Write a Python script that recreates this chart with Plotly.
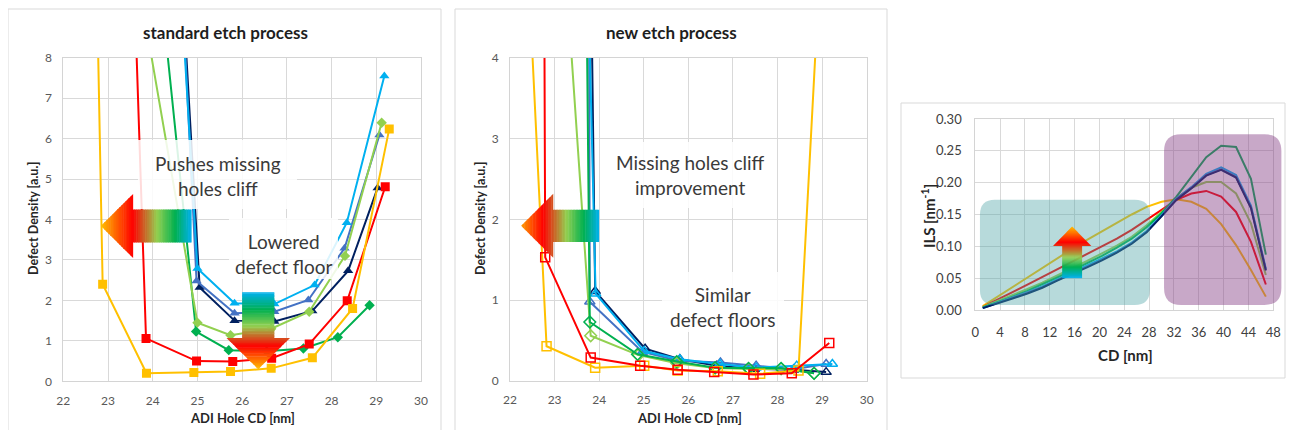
import plotly.graph_objects as go

# ---------------- data: standard etch process (left panel) ----------------
std_yellow_x = [22.57, 22.88, 23.86, 24.92, 25.74, 26.65, 27.57, 28.47, 29.29]
std_yellow_y = [20.0, 2.40, 0.20, 0.22, 0.24, 0.32, 0.58, 1.80, 6.24]
std_red_x = [23.28, 23.85, 24.98, 25.79, 26.66, 27.50, 28.35, 29.20]
std_red_y = [20.0, 1.06, 0.50, 0.49, 0.57, 0.92, 1.99, 4.81]
std_green_x = [23.22, 24.97, 25.70, 26.55, 27.37, 28.14, 28.85]
std_green_y = [20.0, 1.23, 0.77, 0.74, 0.81, 1.09, 1.88]
std_lgreen_x = [22.10, 25.00, 25.74, 26.65, 27.50, 28.30, 29.12]
std_lgreen_y = [20.0, 1.45, 1.14, 1.30, 1.72, 3.10, 6.39]
std_lblue_x = [24.08, 25.00, 25.83, 26.72, 27.62, 28.34, 29.18]
std_lblue_y = [20.0, 2.79, 1.93, 1.91, 2.38, 3.92, 7.55]
std_mblue_x = [24.20, 24.98, 25.83, 26.72, 27.48, 28.29, 29.07]
std_mblue_y = [20.0, 2.48, 1.68, 1.72, 2.01, 3.29, 6.09]
std_navy_x = [24.13, 25.05, 25.83, 26.72, 27.57, 28.37, 29.03]
std_navy_y = [20.0, 2.32, 1.50, 1.48, 1.74, 2.73, 4.78]

# ---------------- data: new etch process (middle panel) ----------------
new_yellow_x = [21.10, 22.82, 23.91, 25.01, 25.76, 26.66, 27.61, 28.47, 30.39]
new_yellow_y = [20.0, 0.43, 0.165, 0.19, 0.13, 0.12, 0.09, 0.13, 20.0]
new_red_x = [22.67, 22.79, 23.81, 24.92, 25.76, 26.58, 27.46, 28.32, 29.16]
new_red_y = [20.0, 1.53, 0.29, 0.19, 0.14, 0.11, 0.08, 0.095, 0.47]
new_lgreen_x = [21.40, 23.81, 24.88, 25.74, 26.60, 27.35, 28.08, 28.82]
new_lgreen_y = [20.0, 0.56, 0.32, 0.22, 0.16, 0.15, 0.15, 0.095]
new_green_x = [23.44, 23.79, 24.86, 25.74, 26.60, 27.35, 28.08, 28.82]
new_green_y = [20.0, 0.73, 0.33, 0.24, 0.165, 0.157, 0.157, 0.095]
new_lblue_x = [23.10, 23.92, 25.01, 25.81, 26.71, 27.52, 28.43, 29.23]
new_lblue_y = [20.0, 1.08, 0.37, 0.27, 0.21, 0.165, 0.19, 0.21]
new_mblue_x = [23.70, 23.79, 24.97, 25.78, 26.72, 27.52, 28.36, 29.09]
new_mblue_y = [20.0, 0.98, 0.36, 0.25, 0.23, 0.19, 0.145, 0.21]
new_navy_x = [23.47, 23.91, 25.03, 25.81, 26.64, 27.48, 28.36, 29.09]
new_navy_y = [20.0, 1.11, 0.40, 0.27, 0.19, 0.15, 0.14, 0.11]

# ---------------- data: ILS vs CD (right panel) ----------------
cd = [1.2, 3.6, 6.0, 8.4, 10.8, 13.2, 15.6, 18.0, 20.4, 22.8,
      25.2, 27.6, 30.0, 32.4, 34.8, 37.2, 39.6, 42.0, 44.4, 46.8]
ils_yellow = [0.006, 0.021, 0.036, 0.052, 0.067, 0.082, 0.096, 0.110, 0.124, 0.137,
              0.150, 0.162, 0.170, 0.174, 0.170, 0.159, 0.135, 0.102, 0.063, 0.021]
ils_red = [0.005, 0.016, 0.028, 0.040, 0.052, 0.064, 0.076, 0.088, 0.100, 0.112,
           0.126, 0.142, 0.158, 0.173, 0.183, 0.187, 0.178, 0.154, 0.107, 0.040]
ils_lgreen = [0.005, 0.014, 0.023, 0.033, 0.043, 0.054, 0.065, 0.077, 0.089, 0.101,
              0.115, 0.133, 0.154, 0.176, 0.192, 0.201, 0.201, 0.183, 0.136, 0.055]
ils_green = [0.004, 0.012, 0.021, 0.030, 0.040, 0.051, 0.062, 0.073, 0.085, 0.098,
             0.112, 0.130, 0.152, 0.178, 0.210, 0.240, 0.258, 0.256, 0.206, 0.087]
ils_lblue = [0.003, 0.011, 0.020, 0.028, 0.037, 0.048, 0.058, 0.069, 0.080, 0.092,
             0.106, 0.124, 0.149, 0.175, 0.193, 0.214, 0.224, 0.212, 0.164, 0.065]
ils_mblue = [0.003, 0.011, 0.019, 0.027, 0.036, 0.047, 0.057, 0.068, 0.079, 0.091,
             0.105, 0.123, 0.148, 0.174, 0.192, 0.212, 0.221, 0.209, 0.161, 0.063]
ils_navy = [0.003, 0.010, 0.018, 0.026, 0.035, 0.046, 0.056, 0.067, 0.078, 0.090,
            0.104, 0.122, 0.147, 0.173, 0.191, 0.211, 0.220, 0.208, 0.160, 0.062]

# tick values
p1_xticks = [22, 23, 24, 25, 26, 27, 28, 29, 30]
p1_yticks = [0, 1, 2, 3, 4, 5, 6, 7, 8]
p2_yticks = [0, 1, 2, 3, 4]
p3_xticks = [0, 4, 8, 12, 16, 20, 24, 28, 32, 36, 40, 44, 48]
p3_yticks = [0.00, 0.05, 0.10, 0.15, 0.20, 0.25, 0.30]

# ---------------- geometry / styling ----------------
# page body has an 8px margin: the figure is sized so that it fills the window exactly
OFF = 8
W, H = 1294 - 2 * OFF, 438 - 2 * OFF

C_YEL, C_RED, C_LGR, C_GRN = '#FFC000', '#FF0000', '#92D050', '#00B050'
C_LBL, C_MBL, C_NAV = '#00B0F0', '#4472C4', '#002060'
FONT = 'Lato'

# plot-area boxes in screen pixels (left, right, top, bottom)
P1 = (63.3, 421.0, 57.7, 381.3)
P2 = (510.0, 866.7, 57.7, 381.0)
P3 = (975.3, 1273.3, 119.0, 310.0)


def px(x):
    return (x - OFF) / W


def py(y):
    return 1 - (y - OFF) / H


def dom_x(p):
    return [px(p[0]), px(p[1])]


def dom_y(p):
    return [py(p[3]), py(p[2])]


fig = go.Figure()

left = [
    (std_navy_x, std_navy_y, C_NAV, 'triangle-up'),
    (std_mblue_x, std_mblue_y, C_MBL, 'triangle-up'),
    (std_lblue_x, std_lblue_y, C_LBL, 'triangle-up'),
    (std_green_x, std_green_y, C_GRN, 'diamond'),
    (std_lgreen_x, std_lgreen_y, C_LGR, 'diamond'),
    (std_red_x, std_red_y, C_RED, 'square'),
    (std_yellow_x, std_yellow_y, C_YEL, 'square'),
]
for xs, ys, c, sym in left:
    size = 8 if sym == 'diamond' else 9
    fig.add_trace(go.Scatter(x=xs, y=ys, mode='lines+markers', xaxis='x', yaxis='y',
                             line=dict(color=c, width=2),
                             marker=dict(symbol=sym, size=size, color=c),
                             showlegend=False, hoverinfo='skip'))

mid = [
    (new_navy_x, new_navy_y, C_NAV, 'triangle-up-open'),
    (new_mblue_x, new_mblue_y, C_MBL, 'triangle-up-open'),
    (new_lblue_x, new_lblue_y, C_LBL, 'triangle-up-open'),
    (new_lgreen_x, new_lgreen_y, C_LGR, 'diamond-open'),
    (new_green_x, new_green_y, C_GRN, 'diamond-open'),
    (new_yellow_x, new_yellow_y, C_YEL, 'square-open'),
    (new_red_x, new_red_y, C_RED, 'square-open'),
]
for xs, ys, c, sym in mid:
    fig.add_trace(go.Scatter(x=xs, y=ys, mode='lines+markers', xaxis='x2', yaxis='y2',
                             line=dict(color=c, width=2),
                             marker=dict(symbol=sym, size=9, color=c, line=dict(width=1.5, color=c)),
                             showlegend=False, hoverinfo='skip'))

right = [
    (ils_yellow, C_YEL), (ils_red, C_RED), (ils_lgreen, C_LGR), (ils_green, C_GRN),
    (ils_lblue, C_LBL), (ils_mblue, C_MBL), (ils_navy, C_NAV),
]
for ys, c in right:
    fig.add_trace(go.Scatter(x=cd, y=ys, mode='lines', xaxis='x3', yaxis='y3',
                             line=dict(color=c, width=2),
                             showlegend=False, hoverinfo='skip'))


def axis(**kw):
    d = dict(showgrid=True, gridcolor='#D9D9D9', gridwidth=1, zeroline=False,
             showline=True, linecolor='#D4D4D4', linewidth=1, mirror=True, ticks='',
             tickfont=dict(family=FONT, size=12, color='#595959'),
             ticklabelstandoff=8, fixedrange=True, automargin=False)
    d.update(kw)
    return d


fig.update_layout(
    template='none',
    width=W, height=H, margin=dict(l=0, r=0, t=0, b=0, pad=0, autoexpand=False),
    paper_bgcolor='white', plot_bgcolor='white', showlegend=False,
    xaxis=axis(domain=dom_x(P1), range=[22, 30], tickvals=p1_xticks, anchor='y'),
    yaxis=axis(domain=dom_y(P1), range=[0, 8], tickvals=p1_yticks, anchor='x'),
    xaxis2=axis(domain=dom_x(P2), range=[22, 30], tickvals=p1_xticks, anchor='y2'),
    yaxis2=axis(domain=dom_y(P2), range=[0, 4], tickvals=p2_yticks, anchor='x2'),
    xaxis3=axis(domain=dom_x(P3), range=[0, 48], tickvals=p3_xticks, anchor='y3',
                tickfont=dict(family=FONT, size=13, color='#404040'), ticklabelstandoff=10),
    yaxis3=axis(domain=dom_y(P3), range=[0, 0.30], tickvals=p3_yticks, tickformat='.2f',
                anchor='x3', tickfont=dict(family=FONT, size=13, color='#404040'),
                ticklabelstandoff=10),
)

shapes = []

# panel frames (screen pixel coords)
for (x0, y0, x1, y1) in [(8, 9, 441, 470), (455, 9, 887, 470), (901, 103, 1285, 378)]:
    shapes.append(dict(type='rect', xref='paper', yref='paper', x0=px(x0), x1=px(x1),
                       y0=py(y1), y1=py(y0), line=dict(color='#D9D9D9', width=1),
                       fillcolor='rgba(0,0,0,0)', layer='below'))


def to_pix3(x, y):
    return P3[0] + x / 48.0 * (P3[1] - P3[0]), P3[3] - y / 0.30 * (P3[3] - P3[2])


def rounded(x0, y0, x1, y1, r):
    pts = [('M', [(x0 + r, y0)]), ('L', [(x1 - r, y0)]), ('Q', [(x1, y0), (x1, y0 + r)]),
           ('L', [(x1, y1 - r)]), ('Q', [(x1, y1), (x1 - r, y1)]), ('L', [(x0 + r, y1)]),
           ('Q', [(x0, y1), (x0, y1 - r)]), ('L', [(x0, y0 + r)]), ('Q', [(x0, y0), (x0 + r, y0)])]
    s = ''
    for cmd, ps in pts:
        s += cmd + ' ' + ' '.join('%.6f,%.6f' % (px(a), py(b)) for a, b in ps) + ' '
    return s + 'Z'


teal_box = (0.75, 0.008, 28.1, 0.173)
purple_box = (30.4, 0.008, 49.3, 0.276)
tx0, ty1 = to_pix3(teal_box[0], teal_box[1])
tx1, ty0 = to_pix3(teal_box[2], teal_box[3])
shapes.append(dict(type='path', xref='paper', yref='paper', path=rounded(tx0, ty0, tx1, ty1, 15),
                   fillcolor='rgba(75,162,165,0.40)', line=dict(width=0), layer='above'))
qx0, qy1 = to_pix3(purple_box[0], purple_box[1])
qx1, qy0 = to_pix3(purple_box[2], purple_box[3])
shapes.append(dict(type='path', xref='paper', yref='paper', path=rounded(qx0, qy0, qx1, qy1, 17),
                   fillcolor='rgba(133,62,133,0.45)', line=dict(width=0), layer='above'))

# white label boxes
for (x0, y0, x1, y1) in [(138, 140, 297, 209), (229, 218, 338, 279),
                         (605, 142, 775, 208), (662, 272, 784, 332)]:
    shapes.append(dict(type='rect', xref='paper', yref='paper', x0=px(x0), x1=px(x1),
                       y0=py(y1), y1=py(y0), line=dict(width=0),
                       fillcolor='rgba(255,255,255,0.86)', layer='above'))


def hex2rgb(h):
    return tuple(int(h[i:i + 2], 16) for i in (1, 3, 5))


def grad_color(stops, t):
    for (t0, c0), (t1, c1) in zip(stops, stops[1:]):
        if t <= t1:
            f = (t - t0) / (t1 - t0) if t1 > t0 else 0
            a, b = hex2rgb(c0), hex2rgb(c1)
            return 'rgb(%d,%d,%d)' % tuple(round(a[i] + (b[i] - a[i]) * f) for i in range(3))
    return stops[-1][1]


def gradient_arrow(tip, base, tail, center, head_half, shaft_half, vertical, stops,
                   xref, yref, n=50):
    out = []
    L = tail - tip
    tbase = (base - tip) / L
    nh = max(6, round(n * tbase))
    ns = max(6, n - nh)
    segs = [(tbase * i / nh, tbase * (i + 1) / nh, True) for i in range(nh)]
    segs += [(tbase + (1 - tbase) * i / ns, tbase + (1 - tbase) * (i + 1) / ns, False)
             for i in range(ns)]
    for ta, tb, head in segs:
        tb2 = min(tb + 0.006, 1.0)

        def half(t):
            return head_half * t / tbase if head else shaft_half
        pa, pb = tip + L * ta, tip + L * tb2
        ha, hb = half(ta), half(tb2)
        if vertical:
            pts = [(center - ha, pa), (center - hb, pb), (center + hb, pb), (center + ha, pa)]
        else:
            pts = [(pa, center - ha), (pb, center - hb), (pb, center + hb), (pa, center + ha)]
        path = 'M ' + ' L '.join('%.5f,%.5f' % p for p in pts) + ' Z'
        out.append(dict(type='path', path=path, xref=xref, yref=yref,
                        fillcolor=grad_color(stops, (ta + tb) / 2),
                        line=dict(width=0), layer='above'))
    return out


stops_left1 = [(0, '#FFC000'), (0.35, '#FF0000'), (0.62, '#92D050'), (0.82, '#00B050'), (1.0, '#00B0F0')]
stops_left2 = [(0, '#FF9A00'), (0.28, '#FF0000'), (0.58, '#92D050'), (0.80, '#00B050'), (1.0, '#00B0F0')]
stops_down = [(0, '#FFC000'), (0.30, '#FF0000'), (0.56, '#92D050'), (0.77, '#00B050'), (1.0, '#00B0F0')]
stops_up = [(0, '#FFC000'), (0.30, '#FF0000'), (0.60, '#92D050'), (0.78, '#00B050'), (1.0, '#00B0F0')]

shapes += gradient_arrow(22.84, 23.55, 24.87, 3.84, 0.78, 0.41, False, stops_left1, 'x', 'y')
shapes += gradient_arrow(0.30, 1.06, 2.20, 26.36, 0.70, 0.36, True, stops_down, 'x', 'y')
shapes += gradient_arrow(22.25, 22.96, 24.00, 1.92, 0.39, 0.20, False, stops_left2, 'x2', 'y2')
shapes += gradient_arrow(0.131, 0.101, 0.050, 15.6, 3.04, 1.60, True, stops_up, 'x3', 'y3')

fig.update_layout(shapes=shapes)

ann = []


def text(x, y, s, size, color='#3A3A3A', angle=0, bold=False):
    ann.append(dict(x=px(x), y=py(y), xref='paper', yref='paper', text=('<b>%s</b>' % s) if bold else s,
                    showarrow=False, xanchor='center', yanchor='middle', textangle=angle,
                    font=dict(family=FONT, size=size, color=color)))


text(225, 32, 'standard etch process', 17, '#1E1E1E', bold=True)
text(671, 32, 'new etch process', 17, '#1E1E1E', bold=True)
text(242, 418, 'ADI Hole CD [nm]', 13, '#262626', bold=True)
text(689, 418, 'ADI Hole CD [nm]', 13, '#262626', bold=True)
text(33, 219, 'Defect Density [a.u.]', 12.5, '#262626', angle=-90, bold=True)
text(480, 219, 'Defect Density [a.u.]', 12.5, '#262626', angle=-90, bold=True)
text(1125, 355, 'CD [nm]', 15, '#262626', bold=True)
text(928, 216, 'ILS [nm<sup>-1</sup>]', 15, '#262626', angle=-90, bold=True)

text(218, 175.5, 'Pushes missing<br>holes cliff', 19)
text(283, 253.5, 'Lowered<br>defect floor', 19)
text(690.7, 175, 'Missing holes cliff<br>improvement', 19)
text(723, 306.5, 'Similar<br>defect floors', 19)

fig.update_layout(annotations=ann)

fig.write_html('out.html')
